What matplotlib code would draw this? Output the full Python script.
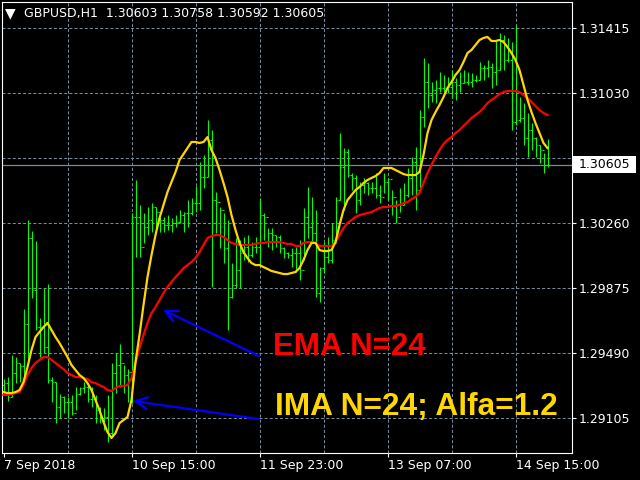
import matplotlib
matplotlib.use('Agg')
import matplotlib.pyplot as plt
from matplotlib.patches import Rectangle
import numpy as np

plt.rcParams['font.family'] = ['DejaVu Sans']
plt.rcParams['lines.scale_dashes'] = False

# ---------------- data ----------------
symbol = 'GBPUSD,H1'
header_ohlc = ['1.30603', '1.30758', '1.30592', '1.30605']
x_tick_labels = ['7 Sep 2018', '10 Sep 15:00', '11 Sep 23:00', '13 Sep 07:00', '14 Sep 15:00']
x_tick_bars = [0, 32, 64, 96, 128]
y_ticks = [1.31415, 1.31030, 1.30645, 1.30260, 1.29875, 1.29490, 1.29105]
bid_price = 1.30605

opens = [
    1.29300, 1.29312, 1.29229, 1.29372, 1.29431, 1.29413, 1.29662, 1.30171, 1.29863, 1.29644,
    1.29644, 1.29526, 1.29330, 1.29318, 1.29170, 1.29229, 1.29200, 1.29200, 1.29135, 1.29247,
    1.29283, 1.29289, 1.29218, 1.29218, 1.29152, 1.29105, 1.29111, 1.29016, 1.29372, 1.29419,
    1.29431, 1.29360, 1.29377, 1.30296, 1.30296, 1.30118, 1.30236, 1.30278, 1.30355, 1.30325,
    1.30278, 1.30248, 1.30248, 1.30260, 1.30266, 1.30307, 1.30319, 1.30319, 1.30378, 1.30378,
    1.30532, 1.30532, 1.30752, 1.30396, 1.30384, 1.30337, 1.30112, 1.29822, 1.29893, 1.29982,
    1.30082, 1.30118, 1.30070, 1.30118, 1.30118, 1.30307, 1.30296, 1.30201, 1.30189, 1.30177,
    1.30112, 1.30082, 1.30070, 1.30082, 1.30082, 1.29982, 1.30296, 1.30236, 1.30201, 1.29845,
    1.29993, 1.30059, 1.30041, 1.30159, 1.30396, 1.30592, 1.30681, 1.30544, 1.30527, 1.30396,
    1.30485, 1.30497, 1.30467, 1.30467, 1.30426, 1.30414, 1.30503, 1.30521, 1.30414, 1.30296,
    1.30367, 1.30426, 1.30527, 1.30621, 1.30455, 1.30888, 1.31095, 1.31018, 1.31048, 1.31060,
    1.31060, 1.31060, 1.31066, 1.31095, 1.31077, 1.31089, 1.31095, 1.31095, 1.31107, 1.31107,
    1.31178, 1.31178, 1.31184, 1.31154, 1.31166, 1.31344, 1.31225, 1.31225, 1.30858, 1.30870,
    1.30882, 1.30763, 1.30811, 1.30763, 1.30722, 1.30692, 1.30603]

highs = [
    1.29336, 1.29348, 1.29478, 1.29466, 1.29431, 1.29751, 1.30278, 1.30213, 1.30153, 1.29697,
    1.29875, 1.29899, 1.29348, 1.29318, 1.29247, 1.29235, 1.29229, 1.29241, 1.29289, 1.29289,
    1.29318, 1.29312, 1.29289, 1.29241, 1.29170, 1.29164, 1.29241, 1.29431, 1.29490, 1.29543,
    1.29419, 1.29395, 1.30319, 1.30515, 1.30367, 1.30319, 1.30355, 1.30378, 1.30355, 1.30296,
    1.30296, 1.30307, 1.30290, 1.30307, 1.30337, 1.30325, 1.30396, 1.30408, 1.30479, 1.30621,
    1.30663, 1.30870, 1.30811, 1.30444, 1.30355, 1.30319, 1.30278, 1.30023, 1.30171, 1.30159,
    1.30177, 1.30189, 1.30147, 1.30177, 1.30408, 1.30319, 1.30230, 1.30230, 1.30189, 1.30189,
    1.30118, 1.30088, 1.30112, 1.30118, 1.30159, 1.30349, 1.30473, 1.30414, 1.30337, 1.29999,
    1.30147, 1.30177, 1.30260, 1.30414, 1.30793, 1.30704, 1.30698, 1.30556, 1.30544, 1.30503,
    1.30527, 1.30503, 1.30503, 1.30556, 1.30485, 1.30556, 1.30527, 1.30455, 1.30396, 1.30467,
    1.30497, 1.30586, 1.30651, 1.30710, 1.30929, 1.31237, 1.31208, 1.31095, 1.31107, 1.31154,
    1.31137, 1.31125, 1.31166, 1.31119, 1.31154, 1.31166, 1.31154, 1.31148, 1.31137, 1.31214,
    1.31196, 1.31225, 1.31208, 1.31344, 1.31385, 1.31374, 1.31356, 1.31332, 1.31433, 1.31006,
    1.30971, 1.30912, 1.30852, 1.30769, 1.30722, 1.30675, 1.30758]

lows = [
    1.29253, 1.29206, 1.29229, 1.29312, 1.29318, 1.29312, 1.29449, 1.29816, 1.29626, 1.29466,
    1.29490, 1.29312, 1.29200, 1.29075, 1.29105, 1.29135, 1.29105, 1.29123, 1.29152, 1.29241,
    1.29253, 1.29200, 1.29170, 1.29075, 1.29075, 1.29034, 1.28963, 1.28992, 1.29253, 1.29289,
    1.29253, 1.29200, 1.29194, 1.30059, 1.30059, 1.30142, 1.30189, 1.30207, 1.30230, 1.30207,
    1.30207, 1.30219, 1.30207, 1.30236, 1.30260, 1.30207, 1.30236, 1.30307, 1.30325, 1.30337,
    1.30467, 1.30532, 1.29881, 1.30201, 1.30112, 1.30023, 1.29626, 1.29816, 1.29875, 1.29875,
    1.30041, 1.30029, 1.30059, 1.30082, 1.30011, 1.30159, 1.30118, 1.30100, 1.30118, 1.30082,
    1.30053, 1.30053, 1.29999, 1.29970, 1.29922, 1.30041, 1.30171, 1.30142, 1.29822, 1.29792,
    1.29964, 1.30023, 1.30023, 1.30142, 1.30396, 1.30337, 1.30532, 1.30455, 1.30319, 1.30367,
    1.30438, 1.30426, 1.30438, 1.30408, 1.30378, 1.30438, 1.30396, 1.30307, 1.30260, 1.30325,
    1.30367, 1.30414, 1.30426, 1.30337, 1.30467, 1.30829, 1.30941, 1.30977, 1.30971, 1.31036,
    1.31036, 1.31030, 1.31000, 1.30989, 1.31036, 1.31089, 1.31077, 1.31066, 1.31095, 1.31107,
    1.31107, 1.31125, 1.31060, 1.31077, 1.31166, 1.31166, 1.31214, 1.30811, 1.30840, 1.30858,
    1.30722, 1.30651, 1.30692, 1.30651, 1.30615, 1.30556, 1.30592]

closes = [
    1.29312, 1.29229, 1.29372, 1.29431, 1.29413, 1.29662, 1.30171, 1.29863, 1.29644, 1.29644,
    1.29526, 1.29330, 1.29318, 1.29170, 1.29229, 1.29200, 1.29200, 1.29135, 1.29247, 1.29283,
    1.29289, 1.29218, 1.29218, 1.29152, 1.29105, 1.29111, 1.29016, 1.29372, 1.29419, 1.29431,
    1.29360, 1.29377, 1.30296, 1.30296, 1.30118, 1.30236, 1.30278, 1.30355, 1.30325, 1.30278,
    1.30248, 1.30248, 1.30260, 1.30266, 1.30307, 1.30319, 1.30319, 1.30378, 1.30378, 1.30532,
    1.30532, 1.30752, 1.30396, 1.30384, 1.30337, 1.30112, 1.29822, 1.29893, 1.29982, 1.30082,
    1.30118, 1.30070, 1.30118, 1.30118, 1.30307, 1.30296, 1.30201, 1.30189, 1.30177, 1.30112,
    1.30082, 1.30070, 1.30082, 1.30082, 1.29982, 1.30296, 1.30236, 1.30201, 1.29845, 1.29993,
    1.30059, 1.30041, 1.30159, 1.30396, 1.30592, 1.30681, 1.30544, 1.30527, 1.30396, 1.30485,
    1.30497, 1.30467, 1.30467, 1.30426, 1.30414, 1.30503, 1.30521, 1.30414, 1.30296, 1.30367,
    1.30426, 1.30527, 1.30621, 1.30455, 1.30888, 1.31095, 1.31018, 1.31048, 1.31060, 1.31060,
    1.31060, 1.31066, 1.31095, 1.31077, 1.31089, 1.31095, 1.31095, 1.31107, 1.31107, 1.31178,
    1.31178, 1.31184, 1.31154, 1.31166, 1.31344, 1.31225, 1.31225, 1.30858, 1.30870, 1.30882,
    1.30763, 1.30811, 1.30763, 1.30722, 1.30692, 1.30603, 1.30605]

ima_values = [
    1.29259, 1.29253, 1.29253, 1.29259, 1.29271, 1.29318, 1.29407, 1.29508, 1.29585, 1.29614,
    1.29644, 1.29668, 1.29626, 1.29585, 1.29549, 1.29508, 1.29466, 1.29419, 1.29389, 1.29360,
    1.29342, 1.29312, 1.29271, 1.29212, 1.29152, 1.29081, 1.29022, 1.28987, 1.29016, 1.29075,
    1.29093, 1.29111, 1.29212, 1.29437, 1.29597, 1.29774, 1.29940, 1.30070, 1.30189, 1.30290,
    1.30367, 1.30444, 1.30503, 1.30562, 1.30633, 1.30669, 1.30704, 1.30740, 1.30740, 1.30734,
    1.30740, 1.30769, 1.30692, 1.30645, 1.30574, 1.30497, 1.30414, 1.30307, 1.30219, 1.30142,
    1.30088, 1.30053, 1.30023, 1.30011, 1.30011, 1.29999, 1.29988, 1.29976, 1.29970, 1.29964,
    1.29958, 1.29958, 1.29964, 1.29970, 1.29993, 1.30041, 1.30100, 1.30142, 1.30142, 1.30100,
    1.30094, 1.30094, 1.30100, 1.30147, 1.30248, 1.30337, 1.30396, 1.30426, 1.30455, 1.30473,
    1.30497, 1.30515, 1.30527, 1.30538, 1.30556, 1.30586, 1.30586, 1.30586, 1.30574, 1.30562,
    1.30550, 1.30544, 1.30544, 1.30544, 1.30562, 1.30663, 1.30793, 1.30870, 1.30917, 1.30959,
    1.31006, 1.31060, 1.31095, 1.31137, 1.31166, 1.31214, 1.31267, 1.31285, 1.31314, 1.31344,
    1.31356, 1.31362, 1.31338, 1.31338, 1.31344, 1.31332, 1.31302, 1.31267, 1.31225, 1.31166,
    1.31077, 1.30989, 1.30917, 1.30852, 1.30793, 1.30734, 1.30704]

ema_values = [
    1.29241, 1.29241, 1.29247, 1.29253, 1.29259, 1.29300, 1.29360, 1.29401, 1.29431, 1.29449,
    1.29466, 1.29466, 1.29449, 1.29431, 1.29413, 1.29395, 1.29372, 1.29360, 1.29348, 1.29348,
    1.29342, 1.29336, 1.29318, 1.29312, 1.29300, 1.29289, 1.29271, 1.29265, 1.29283, 1.29295,
    1.29295, 1.29300, 1.29342, 1.29431, 1.29520, 1.29597, 1.29668, 1.29727, 1.29762, 1.29804,
    1.29845, 1.29881, 1.29911, 1.29940, 1.29964, 1.29993, 1.30011, 1.30029, 1.30053, 1.30088,
    1.30130, 1.30171, 1.30183, 1.30189, 1.30189, 1.30177, 1.30159, 1.30142, 1.30136, 1.30130,
    1.30130, 1.30130, 1.30130, 1.30136, 1.30142, 1.30142, 1.30147, 1.30147, 1.30147, 1.30147,
    1.30142, 1.30136, 1.30136, 1.30124, 1.30124, 1.30142, 1.30147, 1.30147, 1.30142, 1.30124,
    1.30124, 1.30124, 1.30124, 1.30147, 1.30189, 1.30230, 1.30260, 1.30278, 1.30296, 1.30307,
    1.30313, 1.30319, 1.30325, 1.30337, 1.30349, 1.30355, 1.30355, 1.30361, 1.30361, 1.30367,
    1.30378, 1.30384, 1.30402, 1.30414, 1.30438, 1.30497, 1.30556, 1.30604, 1.30651, 1.30692,
    1.30728, 1.30752, 1.30769, 1.30793, 1.30811, 1.30835, 1.30858, 1.30882, 1.30900, 1.30917,
    1.30941, 1.30971, 1.30989, 1.31006, 1.31024, 1.31036, 1.31042, 1.31042, 1.31042, 1.31036,
    1.31018, 1.31000, 1.30977, 1.30953, 1.30929, 1.30912, 1.30900]

ema_label = 'EMA N=24'
ima_label = 'IMA N=24; Alfa=1.2'

# ---------------- style ----------------
W, H = 640, 480
BG = 'black'
GRID = '#778899'
BAR = '#00ff00'
YEL = '#ffd700'
RED = '#ff0000'
BLUE = '#0000ff'

fig = plt.figure(figsize=(6.4, 4.8), dpi=100, facecolor=BG)
L, R, T, B = 2, 572, 2, 453
ax = fig.add_axes([L / W, (H - B) / H, (R - L) / W, (B - T) / H], facecolor=BG)

n = len(closes)
x = np.arange(n)

# axis limits (bar i centred at pixel 3.5 + 4 i)
ax.set_xlim((L - 3.5) / 4, (R - 3.5) / 4)
ax.set_ylim(1.28898, 1.31569)

# grid
dash = (0, (2.2, 1.5))
for yv in y_ticks:
    ax.axhline(yv, color=GRID, lw=0.75, ls=dash, zorder=1)
for xv in range(16, n, 16):
    ax.axvline(xv, color=GRID, lw=0.75, ls=dash, zorder=1)

# bid line
ax.axhline(bid_price, color=GRID, lw=0.9, zorder=1.5)

# OHLC bars
ax.vlines(x, lows, highs, color=BAR, lw=0.8, zorder=2)
ax.hlines(opens, x - 0.4, x, color=BAR, lw=0.8, zorder=2)
ax.hlines(closes, x, x + 0.4, color=BAR, lw=0.8, zorder=2)

# indicator lines
ax.plot(x, ema_values, color=RED, lw=1.6, zorder=3, solid_joinstyle='round')
ax.plot(x, ima_values, color=YEL, lw=1.6, zorder=4, solid_joinstyle='round')

# spines
for s in ax.spines.values():
    s.set_color('white')
    s.set_linewidth(0.8)

# ticks (the 1.30645 label is hidden behind the current-price box)
ax.yaxis.tick_right()
ax.set_yticks(y_ticks)
ax.set_yticklabels(['' if abs(v - bid_price) < 0.0006 else '%.5f' % v for v in y_ticks])
ax.tick_params(axis='y', colors='white', length=3, width=0.8, pad=2,
               labelsize=9, direction='out')
ax.set_xticks(x_tick_bars)
ax.set_xticklabels(x_tick_labels)
for lbl in ax.get_xticklabels():
    lbl.set_horizontalalignment('left')
ax.tick_params(axis='x', colors='white', length=3, width=0.8, pad=1.5,
               labelsize=9, direction='out')

# arrows
arrow_style = '->,head_length=0.85,head_width=0.42'
ax.annotate('', xy=(39.9, 1.29745), xytext=(63.9, 1.29472),
            arrowprops=dict(arrowstyle=arrow_style, color=BLUE, lw=1.6,
                            shrinkA=0, shrinkB=0), zorder=5)
ax.annotate('', xy=(32.4, 1.29206), xytext=(63.9, 1.29099),
            arrowprops=dict(arrowstyle=arrow_style, color=BLUE, lw=1.6,
                            shrinkA=0, shrinkB=0), zorder=5)

# labels
ax.text(67.3, 1.29478, ema_label, color=RED, fontsize=22.5, fontweight='bold',
        family=['Liberation Sans', 'DejaVu Sans'], va='baseline', ha='left', zorder=6)
ax.text(67.8, 1.29123, ima_label, color=YEL, fontsize=22.8, fontweight='bold',
        family=['Liberation Sans', 'DejaVu Sans'], va='baseline', ha='left', zorder=6)

# header
fig.text(5 / W, 1 - 13 / H, '\u25BC', color='white', fontsize=10, va='center', ha='left')
fig.text(24 / W, 1 - 14 / H, symbol + '  ' + ' '.join(header_ohlc), color='white',
         fontsize=9, va='center', ha='left')

# current price label on the right scale
box_top, box_bot = 156, 173
fig.add_artist(Rectangle((573 / W, (H - box_bot) / H), 63 / W, (box_bot - box_top) / H,
                         transform=fig.transFigure, facecolor='white', edgecolor='none',
                         zorder=5))
fig.text(579 / W, 1 - 164.5 / H, '%.5f' % bid_price, color='black', fontsize=9,
         va='center', ha='left', zorder=6)

fig.savefig('out.png', dpi=100, facecolor=BG)
